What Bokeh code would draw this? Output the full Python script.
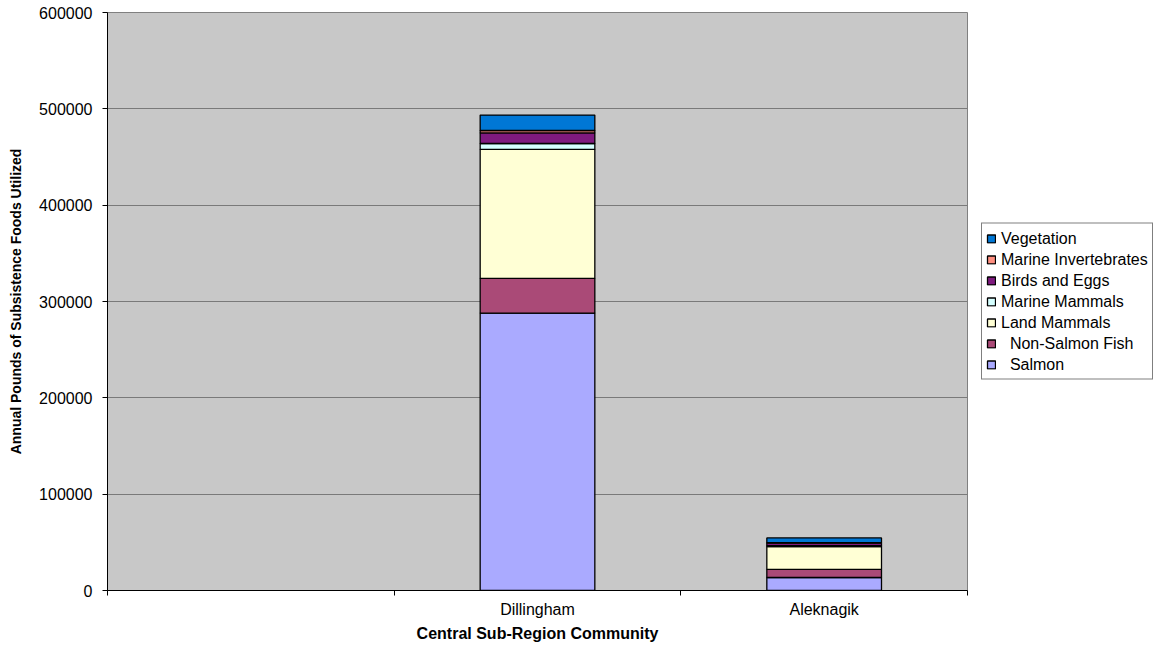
from bokeh.plotting import figure
from bokeh.models import ColumnDataSource, FixedTicker, NumeralTickFormatter, Legend, LegendItem, Range1d
from bokeh.embed import file_html
from bokeh.resources import INLINE

# ---- data ----
categories = ["", "Dillingham", "Aleknagik"]
communities = ["Dillingham", "Aleknagik"]
series = ["Salmon", "Non-Salmon Fish", "Land Mammals", "Marine Mammals",
          "Birds and Eggs", "Marine Invertebrates", "Vegetation"]
legend_labels = ["\u00a0\u00a0Salmon", "\u00a0\u00a0Non-Salmon Fish", "Land Mammals", "Marine Mammals",
                 "Birds and Eggs", "Marine Invertebrates", "Vegetation"]
salmon = [288000, 13500]
non_salmon_fish = [36000, 8500]
land_mammals = [134000, 23500]
marine_mammals = [6000, 1100]
birds_and_eggs = [11000, 2500]
marine_invertebrates = [2500, 500]
vegetation = [16000, 5000]
colors = ["#AAAAFF", "#AA4A77", "#FFFFD5", "#D5FFFF", "#7F1A7F", "#FF8F80", "#0077D5"]
y_ticks = [0, 100000, 200000, 300000, 400000, 500000, 600000]

values = [salmon, non_salmon_fish, land_mammals, marine_mammals,
          birds_and_eggs, marine_invertebrates, vegetation]

xs = [categories.index(c) + 0.5 for c in communities]
data = {"x": xs}
for name, vals in zip(series, values):
    data[name] = vals
source = ColumnDataSource(data)

FONT = "Liberation Sans"

p = figure(frame_width=860, frame_height=578,
           x_range=Range1d(0, len(categories)), y_range=Range1d(y_ticks[0], y_ticks[-1]),
           output_backend="svg", toolbar_location=None,
           min_border_left=107, min_border_right=201, min_border_top=12, min_border_bottom=57)

p.background_fill_color = "#C8C8C8"
p.border_fill_color = "white"
p.outline_line_color = "#808080"
p.outline_line_width = 1

renderers = p.vbar_stack(series, x="x", width=0.4, source=source, fill_color=colors,
                         line_color="black", line_width=1.3)

# y axis
p.yaxis.ticker = FixedTicker(ticks=y_ticks)
p.yaxis.formatter = NumeralTickFormatter(format="0")
p.yaxis.axis_label = "Annual Pounds of Subsistence Foods Utilized"
p.yaxis.axis_label_text_font = FONT
p.yaxis.axis_label_text_font_style = "bold"
p.yaxis.axis_label_text_font_size = "14px"
p.yaxis.axis_label_text_color = "black"
p.yaxis.axis_label_standoff = 12
p.yaxis.major_label_text_font = FONT
p.yaxis.major_label_text_font_size = "16px"
p.yaxis.major_label_text_color = "black"
p.yaxis.major_label_standoff = 10
p.yaxis.major_tick_out = 5
p.yaxis.major_tick_in = 0
p.yaxis.minor_tick_line_color = None
p.yaxis.axis_line_color = "black"
p.yaxis.major_tick_line_color = "black"

# x axis
centers = [i + 0.5 for i in range(len(categories))]
bounds = [float(i) for i in range(len(categories) + 1)]
p.xaxis.ticker = FixedTicker(ticks=centers, minor_ticks=bounds)
p.xaxis.major_label_overrides = {c: lab for c, lab in zip(centers, categories)}
p.xaxis.major_tick_line_color = None
p.xaxis.major_tick_out = 0
p.xaxis.major_tick_in = 0
p.xaxis.minor_tick_out = 5
p.xaxis.minor_tick_in = 0
p.xaxis.minor_tick_line_color = "black"
p.xaxis.axis_line_color = "black"
p.xaxis.major_label_text_font = FONT
p.xaxis.major_label_text_font_size = "16px"
p.xaxis.major_label_text_color = "black"
p.xaxis.major_label_standoff = 5
p.xaxis.axis_label = "Central Sub-Region Community"
p.xaxis.axis_label_text_font = FONT
p.xaxis.axis_label_text_font_style = "bold"
p.xaxis.axis_label_text_font_size = "16px"
p.xaxis.axis_label_text_color = "black"
p.xaxis.axis_label_standoff = 4

p.xgrid.grid_line_color = None
p.ygrid.ticker = FixedTicker(ticks=y_ticks)
p.ygrid.grid_line_color = "#7A7A7A"
p.ygrid.grid_line_width = 1

items = [LegendItem(label=lab, renderers=[r]) for lab, r in zip(legend_labels, renderers)]
items.reverse()
legend = Legend(items=items, location="left")
legend.label_text_font = FONT
legend.label_text_font_size = "16px"
legend.label_text_color = "black"
legend.border_line_color = "black"
legend.border_line_width = 1
legend.background_fill_color = "white"
legend.background_fill_alpha = 1
legend.glyph_width = 10
legend.glyph_height = 10
legend.label_standoff = 5
legend.padding = 4
legend.spacing = 0
legend.label_height = 21
legend.margin = 14
p.add_layout(legend, "right")

open("out.html", "w").write(file_html(p, INLINE))
